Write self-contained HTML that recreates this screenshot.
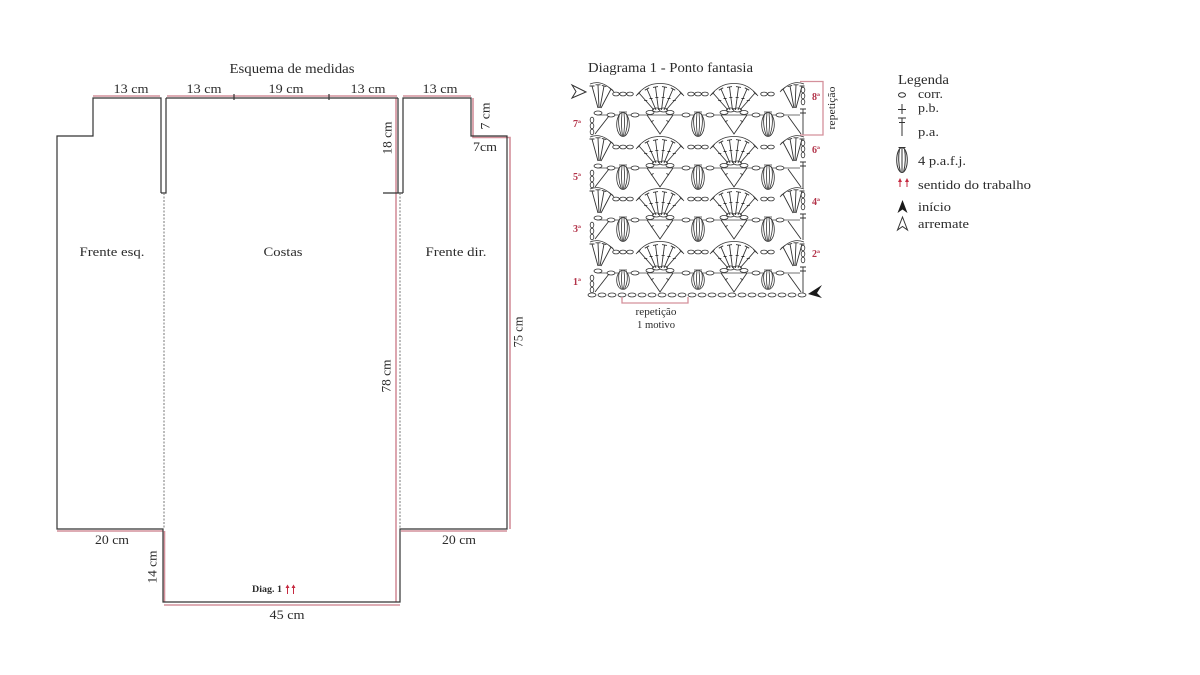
<!DOCTYPE html>
<html><head><meta charset="utf-8"><style>
html,body{margin:0;padding:0;background:#fff;}
svg{display:block}
text{font-family:"Liberation Serif",serif;fill:#2b2b2b;}
.rl{fill:#b3344a;font-weight:bold;font-size:10px;}
</style></head><body>
<svg width="1200" height="675" viewBox="0 0 1200 675" xmlns="http://www.w3.org/2000/svg">
<defs>
<ellipse id="ov" cx="0" cy="0" rx="4" ry="2" fill="#fff" stroke="#333" stroke-width="0.8"/>
<ellipse id="ovs" cx="0" cy="0" rx="3.3" ry="1.9" fill="#fff" stroke="#333" stroke-width="0.8"/>
<ellipse id="vo" cx="0" cy="0" rx="1.8" ry="2.8" fill="#fff" stroke="#333" stroke-width="0.8"/>
<g id="fan" fill="none" stroke="#333" stroke-width="0.9">
<path d="M-6,0 L-21,-17 M-4,0 L-13,-21 M-1.5,0 L-4.5,-23 M1.5,0 L4.5,-23 M4,0 L13,-21 M6,0 L21,-17"/>
<path d="M-22.7,-15.2 L-19.3,-18.8 M-15.2,-19.8 L-10.8,-22.2 M-7,-22.6 L-2,-23.4 M2,-23.4 L7,-22.6 M10.8,-22.2 L15.2,-19.8 M19.3,-18.8 L22.7,-15.2"/>
<path d="M-15.75,-9.4 h3 M-10.45,-11.5 h3 M-4.65,-12.6 h3 M1.65,-12.6 h3 M7.45,-11.5 h3 M12.75,-9.4 h3"/>
<path d="M-24,-14 Q-14,-27 0,-26.5 Q14,-27 24,-14" stroke-width="0.7"/>
</g>
<g id="hfl" fill="none" stroke="#333" stroke-width="0.9">
<path d="M-2,0 L-8,-22 M-1,0 L-2,-23 M0,0 L4,-22 M1,0 L11,-19"/>
<path d="M-10.5,-22 h5 M-4.5,-23.2 h5 M1.8,-22.6 L6.4,-21.4 M8.8,-20.6 L13.2,-17.4"/>
<path d="M-10,-24 Q2,-29 14,-16" stroke-width="0.7"/>
</g>
<g id="hfr" fill="none" stroke="#333" stroke-width="0.9">
<path d="M2,0 L8,-22 M1,0 L2,-23 M0,0 L-4,-22 M-1,0 L-11,-19"/>
<path d="M10.5,-22 h-5 M4.5,-23.2 h-5 M-1.8,-22.6 L-6.4,-21.4 M-8.8,-20.6 L-13.2,-17.4"/>
<path d="M10,-24 Q-2,-29 -14,-16" stroke-width="0.7"/>
</g>
<g id="cl" fill="none" stroke="#333" stroke-width="0.8">
<ellipse cx="0" cy="12.5" rx="6.3" ry="12" fill="#fff"/>
<path d="M-3.5,1.5 Q-6,12.5 -1.5,24 M3.5,1.5 Q6,12.5 1.5,24 M-1,1 Q-2.2,12.5 -0.5,24 M1,1 Q2.2,12.5 0.5,24 M-4,0 h8"/>
</g>
<g id="vv" fill="none" stroke="#333" stroke-width="0.9">
<path d="M-13,0 L0,19 L13,0 M-9,7 l2.6,-1.6 M9,7 l-2.6,-1.6"/>
<use href="#ov" x="-10" y="-2.5"/>
<use href="#ov" x="-3.5" y="-5"/>
<use href="#ov" x="3.5" y="-5"/>
<use href="#ov" x="10" y="-2.5"/>
</g>
<g id="crow">
<path d="M597,0 H800" stroke="#444" stroke-width="0.8" fill="none"/>
<use href="#ov" x="611" y="0"/><use href="#ov" x="635" y="0"/>
<use href="#ov" x="686" y="0"/><use href="#ov" x="710" y="0"/>
<use href="#ov" x="756" y="0"/><use href="#ov" x="780" y="0"/>
<use href="#vv" x="660" y="0"/><use href="#vv" x="734" y="0"/>
<use href="#vo" x="592" y="5"/><use href="#vo" x="592" y="11"/><use href="#vo" x="592" y="17"/>
<use href="#ov" x="598" y="-2"/>
<path d="M595,19 L609,1 M788,1 L801,19 M803,-6 V20 M800,-6 h6 M800,-2 h6" stroke="#333" stroke-width="0.9" fill="none"/>
</g>
<g id="frow">
<use href="#fan" x="660" y="-5"/><use href="#fan" x="734" y="-5"/>
<use href="#hfl" x="600" y="-7"/><use href="#hfr" x="794" y="-7"/>
<use href="#ovs" x="616" y="-21"/><use href="#ovs" x="623" y="-21"/><use href="#ovs" x="630" y="-21"/>
<use href="#ovs" x="691" y="-21"/><use href="#ovs" x="698" y="-21"/><use href="#ovs" x="705" y="-21"/>
<use href="#ovs" x="764" y="-21"/><use href="#ovs" x="771" y="-21"/>
<use href="#vo" x="803" y="-25"/><use href="#vo" x="803" y="-19"/><use href="#vo" x="803" y="-13"/>
</g>
</defs>

<!-- ===== Schematic ===== -->
<g fill="none" stroke="#d4909b" stroke-width="1.6">
<path d="M93,96 H160"/>
<path d="M167,96 H397"/>
<path d="M396,98 V602"/>
<path d="M403,96 H471 M473,98 V137.5 H510 V529"/>
<path d="M401,531 H507"/>
<path d="M57,531 H163"/>
<path d="M164.5,531 V602"/>
<path d="M164,605 H400"/>
</g>
<g fill="none" stroke="#333" stroke-width="1.2">
<path d="M161,193 V98 H93 V136 H57 V529 H163 V602 H400 V529 H507 V136 H471 V98 H403 V193"/>
<path d="M383,193 H403 M398,98 V193"/>
<path d="M166,98 H398 M166,98 V193 H161"/>
<path d="M234,94 V100 M329,94 V100"/>
</g>
<g fill="none" stroke="#777" stroke-width="1" stroke-dasharray="2,1.5">
<path d="M164,193 V529"/>
<path d="M400,193 V529"/>
</g>

<g font-size="14" text-anchor="middle">
<text x="292" y="73" textLength="125" lengthAdjust="spacingAndGlyphs">Esquema de medidas</text>
</g>
<g font-size="13" text-anchor="middle">
<text x="131" y="93" textLength="35" lengthAdjust="spacingAndGlyphs">13 cm</text>
<text x="204" y="93" textLength="35" lengthAdjust="spacingAndGlyphs">13 cm</text>
<text x="286" y="93" textLength="35" lengthAdjust="spacingAndGlyphs">19 cm</text>
<text x="368" y="93" textLength="35" lengthAdjust="spacingAndGlyphs">13 cm</text>
<text x="440" y="93" textLength="35" lengthAdjust="spacingAndGlyphs">13 cm</text>
<text x="112" y="256" textLength="65" lengthAdjust="spacingAndGlyphs">Frente esq.</text>
<text x="283" y="256" textLength="39" lengthAdjust="spacingAndGlyphs">Costas</text>
<text x="456" y="256" textLength="61" lengthAdjust="spacingAndGlyphs">Frente dir.</text>
<text transform="translate(391.5,138) rotate(-90)" x="0" y="0" textLength="33" lengthAdjust="spacingAndGlyphs">18 cm</text>
<text transform="translate(489.5,116) rotate(-90)" x="0" y="0" textLength="27" lengthAdjust="spacingAndGlyphs">7 cm</text>
<text x="485" y="151" textLength="24" lengthAdjust="spacingAndGlyphs">7cm</text>
<text transform="translate(522.5,332) rotate(-90)" x="0" y="0" textLength="31" lengthAdjust="spacingAndGlyphs">75 cm</text>
<text transform="translate(390.5,376) rotate(-90)" x="0" y="0" textLength="33" lengthAdjust="spacingAndGlyphs">78 cm</text>
<text x="112" y="544" textLength="34" lengthAdjust="spacingAndGlyphs">20 cm</text>
<text x="459" y="544" textLength="34" lengthAdjust="spacingAndGlyphs">20 cm</text>
<text transform="translate(156.5,567) rotate(-90)" x="0" y="0" textLength="33" lengthAdjust="spacingAndGlyphs">14 cm</text>
<text x="287" y="619" textLength="35" lengthAdjust="spacingAndGlyphs">45 cm</text>
</g>
<text x="252" y="592" font-size="9.5" font-weight="bold" textLength="30" lengthAdjust="spacingAndGlyphs">Diag. 1</text>
<g fill="#c62a40" stroke="#c62a40" stroke-width="1">
<path d="M287.5,594 V587 M293.5,594 V587" fill="none"/>
<path d="M285.5,588 L287.5,584.5 L289.5,588 Z M291.5,588 L293.5,584.5 L295.5,588 Z" stroke="none"/>
</g>

<!-- ===== Diagram ===== -->
<text x="588" y="72" font-size="14" textLength="165" lengthAdjust="spacingAndGlyphs">Diagrama 1 - Ponto fantasia</text>

<use href="#crow" x="0" y="273"/>
<use href="#crow" x="0" y="220"/>
<use href="#crow" x="0" y="168"/>
<use href="#crow" x="0" y="115"/>
<g>
<use href="#cl" transform="translate(623,270) scale(1,0.8)"/>
<use href="#cl" transform="translate(698,270) scale(1,0.8)"/>
<use href="#cl" transform="translate(768,270) scale(1,0.8)"/>
<use href="#cl" x="623" y="217"/><use href="#cl" x="698" y="217"/><use href="#cl" x="768" y="217"/>
<use href="#cl" x="623" y="165"/><use href="#cl" x="698" y="165"/><use href="#cl" x="768" y="165"/>
<use href="#cl" x="623" y="112"/><use href="#cl" x="698" y="112"/><use href="#cl" x="768" y="112"/>
</g>
<use href="#frow" x="0" y="273"/>
<use href="#frow" x="0" y="220"/>
<use href="#frow" x="0" y="168"/>
<use href="#frow" x="0" y="115"/>

<g>
<use href="#ov" x="592" y="295"/><use href="#ov" x="602" y="295"/><use href="#ov" x="612" y="295"/><use href="#ov" x="622" y="295"/>
<use href="#ov" x="632" y="295"/><use href="#ov" x="642" y="295"/><use href="#ov" x="652" y="295"/><use href="#ov" x="662" y="295"/>
<use href="#ov" x="672" y="295"/><use href="#ov" x="682" y="295"/><use href="#ov" x="692" y="295"/><use href="#ov" x="702" y="295"/>
<use href="#ov" x="712" y="295"/><use href="#ov" x="722" y="295"/><use href="#ov" x="732" y="295"/><use href="#ov" x="742" y="295"/>
<use href="#ov" x="752" y="295"/><use href="#ov" x="762" y="295"/><use href="#ov" x="772" y="295"/><use href="#ov" x="782" y="295"/>
<use href="#ov" x="792" y="295"/><use href="#ov" x="802" y="295"/>
</g>
<path d="M808,294 L822,285 L817,293 L822,298 Z" fill="#1a1a1a"/>
<path d="M586,92 L572,85 L576,91.5 L572,98 Z" fill="none" stroke="#333" stroke-width="1"/>

<text class="rl" x="812" y="100">8ª</text>
<text class="rl" x="573" y="127">7ª</text>
<text class="rl" x="812" y="153">6ª</text>
<text class="rl" x="573" y="180">5ª</text>
<text class="rl" x="812" y="205">4ª</text>
<text class="rl" x="573" y="232">3ª</text>
<text class="rl" x="812" y="257">2ª</text>
<text class="rl" x="573" y="285">1ª</text>

<path d="M800,81.5 H823 V135 H800" fill="none" stroke="#d4909b" stroke-width="1.3"/>
<text transform="translate(835,108) rotate(-90)" x="0" y="0" font-size="11" text-anchor="middle" textLength="43" lengthAdjust="spacingAndGlyphs">repetição</text>
<path d="M622,297 V303 H688 V297" fill="none" stroke="#d4909b" stroke-width="1.3"/>
<text x="656" y="315" font-size="11" text-anchor="middle" textLength="41" lengthAdjust="spacingAndGlyphs">repetição</text>
<text x="656" y="328" font-size="11" text-anchor="middle" textLength="38" lengthAdjust="spacingAndGlyphs">1 motivo</text>

<!-- ===== Legend ===== -->
<text x="898" y="84" font-size="14" textLength="51" lengthAdjust="spacingAndGlyphs">Legenda</text>
<g font-size="13">
<text x="918" y="98" textLength="25" lengthAdjust="spacingAndGlyphs">corr.</text>
<text x="918" y="112" textLength="21" lengthAdjust="spacingAndGlyphs">p.b.</text>
<text x="918" y="136" textLength="21" lengthAdjust="spacingAndGlyphs">p.a.</text>
<text x="918" y="165" textLength="48" lengthAdjust="spacingAndGlyphs">4 p.a.f.j.</text>
<text x="918" y="189" textLength="113" lengthAdjust="spacingAndGlyphs">sentido do trabalho</text>
<text x="918" y="211" textLength="33" lengthAdjust="spacingAndGlyphs">início</text>
<text x="918" y="228" textLength="51" lengthAdjust="spacingAndGlyphs">arremate</text>
</g>
<g fill="none" stroke="#333" stroke-width="1">
<ellipse cx="902" cy="95" rx="3.5" ry="2.2"/>
<path d="M902,104 V114 M898,109.5 H906"/>
<path d="M902,118 V136 M898,118 H906 M899,122.5 H905"/>
<ellipse cx="902" cy="160" rx="5.3" ry="12.5"/>
<path d="M899.5,149 Q897.5,160 900.3,171.5 M904.5,149 Q906.5,160 903.7,171.5 M902,148 V172.5 M898.5,147.5 h7"/>
<path d="M902.5,217 L907.5,230 L902.5,226.5 L897.5,230 Z"/>
</g>
<path d="M902.5,200 L907.5,213 L902.5,209.5 L897.5,213 Z" fill="#1a1a1a"/>
<g fill="#c62a40" stroke="#c62a40" stroke-width="1">
<path d="M900,187 V181 M907,187 V181" fill="none"/>
<path d="M898,182 L900,178 L902,182 Z M905,182 L907,178 L909,182 Z" stroke="none"/>
</g>
</svg>
</body></html>
